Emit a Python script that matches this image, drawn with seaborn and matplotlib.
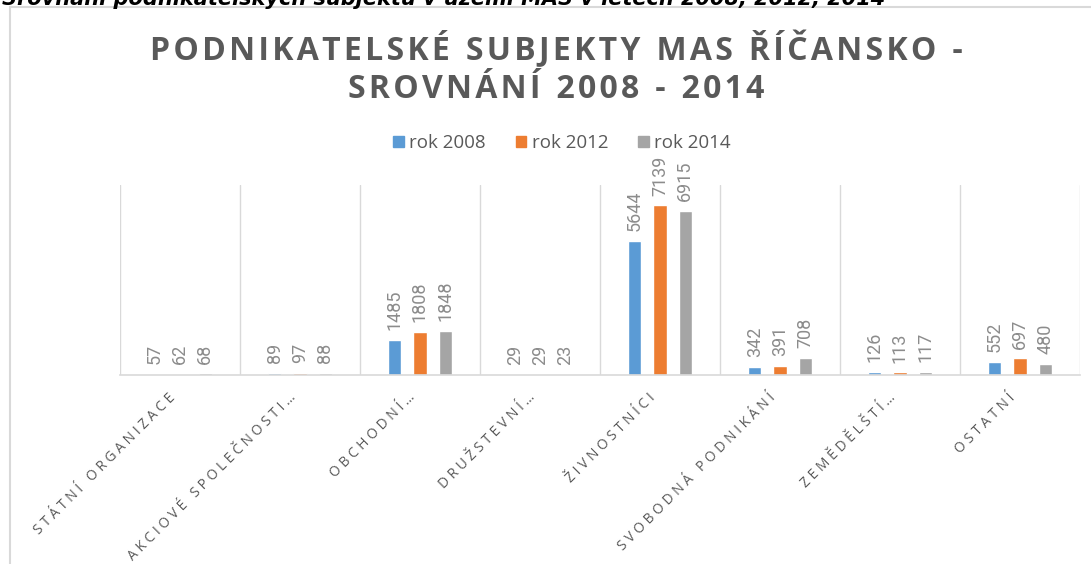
import matplotlib
matplotlib.use("Agg")
import matplotlib.pyplot as plt
import matplotlib.transforms as mtransforms
import seaborn as sns
import pandas as pd
from matplotlib.patches import Rectangle, Patch

categories = ["STÁTNÍ ORGANIZACE", "AKCIOVÉ SPOLEČNOSTI…", "OBCHODNÍ…", "DRUŽSTEVNÍ…",
              "ŽIVNOSTNÍCI", "SVOBODNÁ PODNIKÁNÍ", "ZEMĚDĚLŠTÍ…", "OSTATNÍ"]
series = ["rok 2008", "rok 2012", "rok 2014"]
v2008 = [57, 89, 1485, 29, 5644, 342, 126, 552]
v2012 = [62, 97, 1808, 29, 7139, 391, 113, 697]
v2014 = [68, 88, 1848, 23, 6915, 708, 117, 480]
colors = ["#5b9bd5", "#ed7d31", "#a5a5a5"]

rows = []
for s, vals in zip(series, [v2008, v2012, v2014]):
    for c, v in zip(categories, vals):
        rows.append({"kat": c, "rok": s, "pocet": v})
df = pd.DataFrame(rows)

sns.set_theme(style="white")
plt.rcParams['font.family'] = ['Open Sans', 'DejaVu Sans']

def spaced(t, sep="\u200a"):
    return sep.join(list(t))

fig = plt.figure(figsize=(10.91, 5.64), dpi=100)
ax = fig.add_axes([120/1091, 1-375/564, 960/1091, 190/564])

sns.barplot(data=df, x="kat", y="pocet", hue="rok", palette=colors, ax=ax,
            width=0.63, gap=0.48, legend=False, saturation=1)

ax.set_ylim(0, 8000)
ax.set_xlim(-0.5, len(categories) - 0.5)
ax.set_xlabel("")
ax.set_ylabel("")
ax.set_yticks([])
for sp in ["top", "right", "left"]:
    ax.spines[sp].set_visible(False)
ax.spines["bottom"].set_color("#d9d9d9")
ax.spines["bottom"].set_linewidth(1.2)
for b in range(len(categories) + 1):
    ax.axvline(b - 0.5, color="#d9d9d9", lw=1, zorder=0)

for cont in ax.containers:
    labels = [str(int(round(p.get_height()))) for p in cont]
    ax.bar_label(cont, labels=labels, rotation=90, padding=7, color="#8c8c8c",
                 fontsize=13, family=["Roboto", "DejaVu Sans"])

ax.set_xticks(range(len(categories)))
ax.set_xticklabels([spaced(c, "\u2009\u200a") for c in categories], rotation=45, ha="right",
                   rotation_mode="anchor", fontsize=10, color="#595959")
ax.tick_params(axis="x", length=0, pad=11)
offset = mtransforms.ScaledTranslation(-12/100, 0, fig.dpi_scale_trans)
for lbl in ax.get_xticklabels():
    lbl.set_transform(lbl.get_transform() + offset)

handles = [Patch(facecolor=c, edgecolor=c) for c in colors]
fig.legend(handles, series, loc="center", bbox_to_anchor=(562/1091, 1-143/564), ncol=3,
           frameon=False, fontsize=13.5, handlelength=0.55, handleheight=0.55,
           handletextpad=0.3, columnspacing=1.6, labelcolor="#595959")

sp_word = "\u2002"
line1 = sp_word.join(spaced(w) for w in ["PODNIKATELSKÉ", "SUBJEKTY", "MAS", "ŘÍČANSKO", "-"])
line2 = sp_word.join(spaced(w) for w in ["SROVNÁNÍ", "2008", "-", "2014"])
fig.text(556/1091, 1-49/564, line1, ha="center", va="center", fontsize=23,
         fontweight="bold", color="#595959")
fig.text(556/1091, 1-90/564, line2, ha="center", va="center", fontsize=23,
         fontweight="bold", color="#595959")

fig.patches.append(Rectangle((10/1091, -0.1), 1.2, 1 - 7/564 + 0.1, transform=fig.transFigure,
                             fill=False, edgecolor="#d9d9d9", lw=1.5))

fig.text(2/1091, 1-5/564, "Srovnání podnikatelských subjektů v území MAS v letech 2008, 2012, 2014",
         ha="left", va="baseline", fontsize=15, fontweight="bold", style="italic", color="black",
         family=["DejaVu Sans"])

fig.savefig("out.png", dpi=100)
